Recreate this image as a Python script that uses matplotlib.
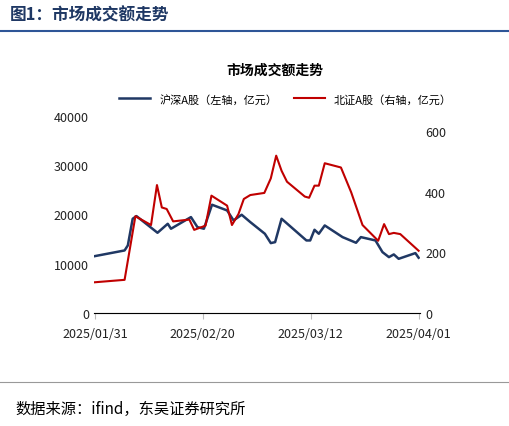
import matplotlib.pyplot as plt
import matplotlib.dates as mdates
import pandas as pd

plt.rcParams['font.family'] = ['Noto Sans CJK SC', 'DejaVu Sans']

base = pd.Timestamp('2025-01-31')
sh_days = [0, 5.5, 6.1, 7.0, 7.7, 11.6, 13.5, 14.1, 17.8, 19.0, 20.2, 21.7, 24.5, 25.7, 27.2, 28.8,
           31.5, 32.6, 33.4, 34.6, 39.2, 39.9, 40.7, 41.5, 42.6, 45.9, 48.4, 49.3, 52.0, 53.3,
           54.5, 55.4, 56.3, 59.4, 60]
sh_vals = [11530, 12680, 13700, 19120, 19660, 16270, 18100, 17090, 19460, 17420, 17090, 21970,
           20810, 18780, 19930, 18440, 16070, 14170, 14370, 19120, 14710, 14710, 16880, 16070,
           17760, 15390, 14240, 15390, 14710, 12340, 11320, 11870, 10980, 12140, 11200]
bj_days = [0, 5.5, 7.5, 10.4, 11.5, 12.4, 13.3, 14.5, 17.5, 18.4, 20.5, 21.6, 24.5, 25.4, 26.6,
           27.6, 28.8, 31.4, 32.6, 33.6, 34.6, 35.6, 38.9, 39.7, 40.7, 41.5, 42.6, 45.6, 47.5,
           49.6, 52.5, 53.6, 54.5, 55.4, 56.6, 60]
bj_vals = [101, 109, 319, 290, 422, 348, 343, 302, 308, 274, 288, 387, 354, 290, 326, 376, 389,
           396, 444, 519, 469, 433, 384, 380, 420, 420, 494, 480, 398, 290, 238, 293, 260, 264,
           260, 205]
tick_dates = ['2025-01-31', '2025-02-20', '2025-03-12', '2025-04-01']

sh_x = [base + pd.Timedelta(days=d) for d in sh_days]
bj_x = [base + pd.Timedelta(days=d) for d in bj_days]

fig = plt.figure(figsize=(5.1, 4.27), dpi=100)
navy = '#1F3864'
fig.text(0.02, 0.963, '图1：市场成交额走势', fontsize=12, fontweight='bold', color=navy, va='center')
fig.add_artist(plt.Line2D([0.0, 1.0], [0.925, 0.925], color='#2E5597', lw=1.5))
fig.add_artist(plt.Line2D([0.0, 1.0], [0.104, 0.104], color='#999999', lw=0.8))
fig.text(0.03, 0.04, '数据来源：ifind，东吴证券研究所', fontsize=11, color='black', va='center')

ax = fig.add_axes([0.184, 0.265, 0.64, 0.461])
ax2 = ax.twinx()
l1, = ax.plot(sh_x, sh_vals, color='#203864', lw=1.8, label='沪深A股（左轴，亿元）')
l2, = ax2.plot(bj_x, bj_vals, color='#C00000', lw=1.5, label='北证A股（右轴，亿元）')

ax.set_ylim(0, 40000)
ax.set_yticks(range(0, 40001, 10000))
ax2.set_ylim(0, 650)
ax2.set_yticks([0, 200, 400, 600])
ax.set_xlim(base - pd.Timedelta(days=0.2), pd.Timestamp('2025-04-01') + pd.Timedelta(days=0.3))
ax.set_xticks([pd.Timestamp(t) for t in tick_dates])
ax.xaxis.set_major_formatter(mdates.DateFormatter('%Y/%m/%d'))

for a in (ax, ax2):
    for s in ('top', 'left', 'right'):
        a.spines[s].set_visible(False)
    a.tick_params(labelsize=9, length=0, colors='#222222')
ax.spines['bottom'].set_color('#BBBBBB')
ax.tick_params(axis='x', length=4, color='#BBBBBB', pad=6)

fig.text(0.54, 0.834, '市场成交额走势', fontsize=10, fontweight='bold', ha='center', va='center')
fig.legend(handles=[l1, l2], loc='center', bbox_to_anchor=(0.56, 0.766), ncol=2, frameon=False,
           fontsize=8, handlelength=2.8, columnspacing=1.5)

fig.savefig('out.png', dpi=100)
